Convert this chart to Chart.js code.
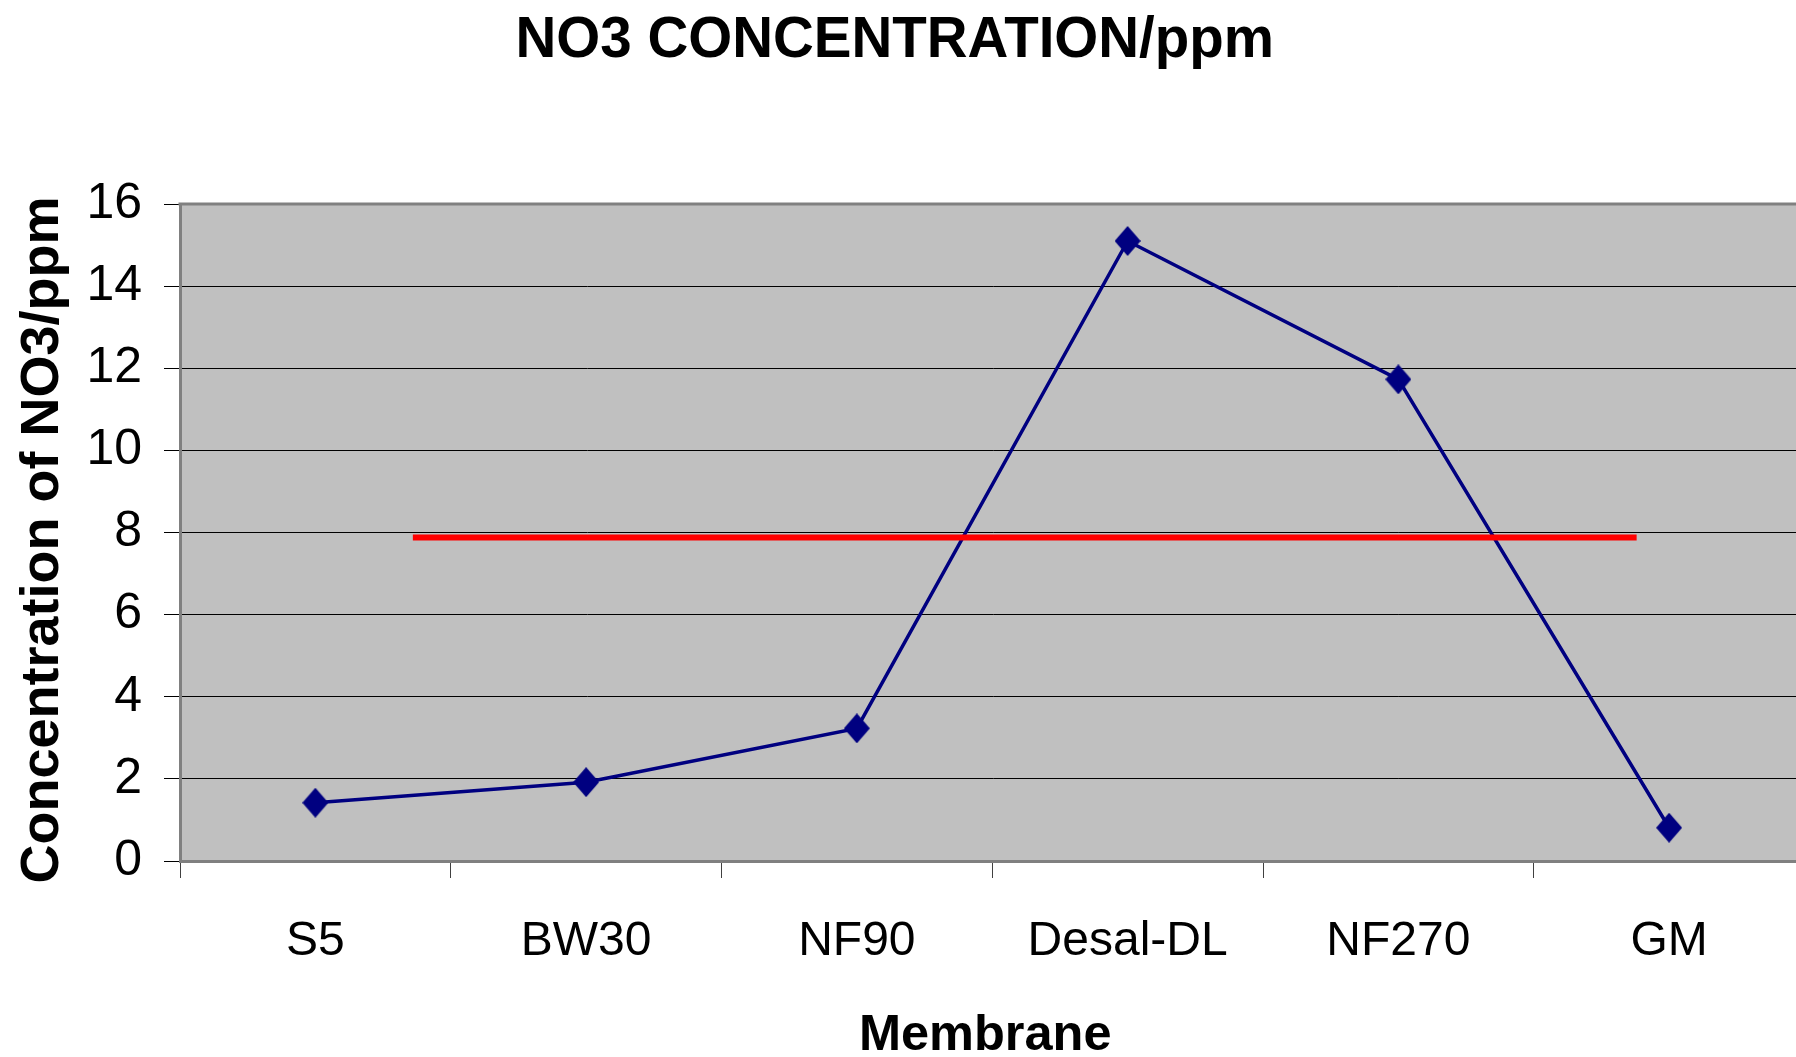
<!DOCTYPE html>
<html>
<head>
<meta charset="utf-8">
<title>NO3 concentration</title>
<script src="https://cdn.jsdelivr.net/npm/chart.js@4.4.1/dist/chart.umd.min.js"></script>
<style>
  html, body { margin: 0; padding: 0; background: #fff; overflow: hidden; }
  canvas { display: block; }
</style>
</head>
<body>
<canvas id="grafico" width="1821" height="1057"></canvas>
<script>
// dados
const membranas = ['S5', 'BW30', 'NF90', 'Desal-DL', 'NF270', 'GM'];
const no3 = [1.42, 1.92, 3.23, 15.1, 11.73, 0.81];
const yTicks = [0, 2, 4, 6, 8, 10, 12, 14, 16];
// linha vermelha (limite), x em unidades de categoria a partir da borda esquerda
const limiteX = [0.86, 5.38];
const limiteY = [7.88, 7.88];

document.addEventListener('DOMContentLoaded', () => {
  const $ = id => document.getElementById(id);
  const FONT = '"Liberation Sans", Arial, sans-serif';

  // marcador em losango, um pouco mais alto que largo
  const losango = document.createElement('canvas');
  losango.width = 26;
  losango.height = 30;
  const lc = losango.getContext('2d');
  lc.fillStyle = '#000080';
  lc.beginPath();
  lc.moveTo(13, 0);
  lc.lineTo(26, 15);
  lc.lineTo(13, 30);
  lc.lineTo(0, 15);
  lc.closePath();
  lc.fill();

  // fundo cinza e borda de cima da area do grafico
  const areaPlot = {
    id: 'areaPlot',
    beforeDraw(chart) {
      const { ctx, chartArea: a } = chart;
      ctx.save();
      ctx.fillStyle = '#c0c0c0';
      ctx.fillRect(a.left, a.top, a.right - a.left, a.bottom - a.top);
      ctx.restore();
    },
    beforeDatasetsDraw(chart) {
      const { ctx, chartArea: a } = chart;
      ctx.save();
      ctx.strokeStyle = '#808080';
      ctx.lineWidth = 3;
      ctx.beginPath();
      ctx.moveTo(a.left - 1.5, a.top);
      ctx.lineTo(a.right, a.top);
      ctx.stroke();
      ctx.restore();
    }
  };

  new Chart($('grafico'), {
    type: 'line',
    data: {
      labels: membranas,
      datasets: [
        {
          data: limiteX.map((x, i) => ({ x, y: limiteY[i] })),
          xAxisID: 'x2',
          borderColor: '#ff0000',
          borderWidth: 6,
          borderCapStyle: 'butt',
          pointRadius: 0,
          order: 0
        },
        {
          data: no3,
          borderColor: '#000080',
          borderWidth: 3.5,
          pointStyle: losango,
          pointRadius: 13,
          pointHoverRadius: 13,
          pointBackgroundColor: '#000080',
          pointBorderColor: '#000080',
          tension: 0,
          order: 1
        }
      ]
    },
    options: {
      responsive: false,
      animation: false,
      events: [],
      layout: { padding: 0 },
      plugins: {
        legend: { display: false },
        tooltip: { enabled: false },
        title: {
          display: true,
          // espacos no fim puxam o titulo um pouco para a esquerda
          text: 'NO3 CONCENTRATION/ppm  ',
          color: '#000',
          font: { family: FONT, size: 56.5, weight: 'bold', lineHeight: 1.1 },
          padding: { top: 10, bottom: 131.85 }
        }
      },
      scales: {
        x: {
          type: 'category',
          offset: true,
          afterFit: s => { s.height = 196; },
          grid: {
            offset: true,
            drawOnChartArea: false,
            drawTicks: true,
            tickLength: 17,
            color: '#404040',
            lineWidth: 1
          },
          border: { display: true, color: '#808080', width: 3 },
          ticks: {
            color: '#000',
            font: { family: FONT, size: 48 },
            padding: 35,
            maxRotation: 0,
            autoSkip: false
          },
          title: {
            display: true,
            text: 'Membrane ',
            color: '#000',
            font: { family: FONT, size: 50.5, weight: 'bold', lineHeight: 1 },
            padding: { top: 0, bottom: -4 }
          }
        },
        x2: {
          type: 'linear',
          display: false,
          min: 0,
          max: membranas.length
        },
        y: {
          min: yTicks[0],
          max: yTicks[yTicks.length - 1],
          afterFit: s => { s.width = 180; },
          afterBuildTicks: s => { s.ticks = yTicks.map(v => ({ value: v })); },
          grid: {
            color: '#000',
            lineWidth: 1,
            tickLength: 16
          },
          border: { display: true, color: '#808080', width: 3 },
          ticks: {
            color: '#000',
            font: { family: FONT, size: 50 },
            padding: 22
          },
          title: {
            display: true,
            text: 'Concentration of NO3/ppm ',
            color: '#000',
            font: { family: FONT, size: 54, weight: 'bold', lineHeight: 1 },
            padding: { top: 16, bottom: 0 }
          }
        }
      }
    },
    plugins: [areaPlot]
  });
});
</script>
</body>
</html>
